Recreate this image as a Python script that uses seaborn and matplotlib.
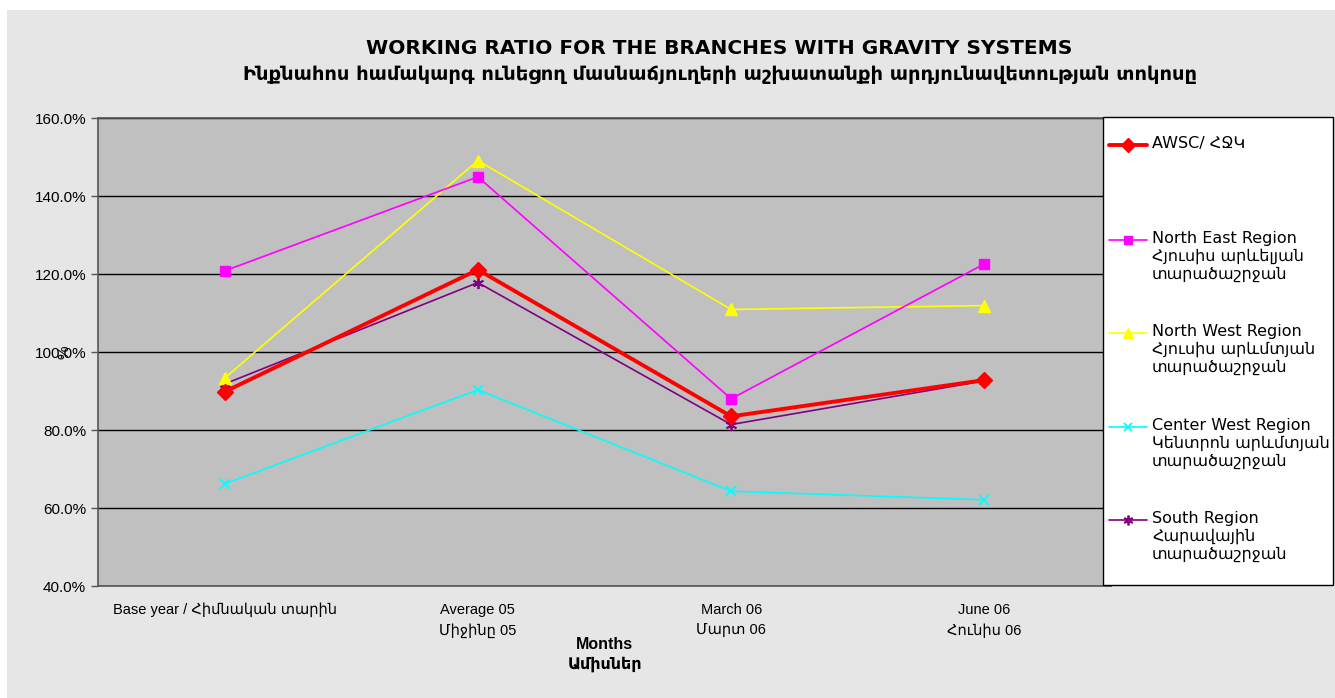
import pandas as pd
import numpy as np
import matplotlib
matplotlib.use('Agg')
import matplotlib.pyplot as plt
from matplotlib.patches import Rectangle
from matplotlib.lines import Line2D
import seaborn as sns

# Data (percent)
categories = ['Base year / Հիմնական տարին', 'Average 05\nՄիջինը 05',
              'March 06\nՄարտ 06', 'June 06\nՀունիս 06']
awsc = [89.8, 121.1, 83.5, 92.8]
north_east = [120.8, 144.9, 88.0, 122.6]
north_west = [93.3, 149.1, 110.9, 111.9]
center_west = [66.2, 90.3, 64.3, 62.1]
south = [91.8, 117.8, 81.4, 92.6]

series_labels = ['AWSC/ ՀՋԿ',
                 'North East Region\nՀյուսիս արևելյան\nտարածաշրջան',
                 'North West Region\nՀյուսիս արևմտյան\nտարածաշրջան',
                 'Center West Region\nԿենտրոն արևմտյան\nտարածաշրջան',
                 'South Region\nՀարավային\nտարածաշրջան']

sns.set_theme(style='white')
plt.rcParams['font.family'] = ['Liberation Sans', 'DejaVu Sans']
plt.rcParams['text.color'] = 'black'
plt.rcParams['axes.labelcolor'] = 'black'
plt.rcParams['xtick.color'] = 'black'
plt.rcParams['ytick.color'] = 'black'

fig = plt.figure(figsize=(13.35, 6.98), dpi=100)
fig.patch.set_facecolor('white')
# light page background
fig.patches.append(Rectangle((7 / 1335, 0), 1, (698 - 10) / 698, transform=fig.transFigure,
                             facecolor='#e6e6e6', edgecolor='none', zorder=-10))

ax = fig.add_axes([98 / 1335, (698 - 586) / 698, (1111 - 98) / 1335, (586 - 118) / 698])
ax.set_facecolor('#c0c0c0')

styles = [
    dict(color='#ff0000', marker='D', markersize=8, linewidth=2.8),
    dict(color='#ff00ff', marker='s', markersize=7, linewidth=1.2),
    dict(color='#ffff00', marker='^', markersize=8, linewidth=1.2),
    dict(color='#00ffff', marker='x', markersize=7, linewidth=1.2, markeredgewidth=1.3),
    dict(color='#800080', marker=(6, 2, 0), markersize=8, linewidth=1.2, markeredgewidth=1.3),
]
all_series = [awsc, north_east, north_west, center_west, south]
xpos = np.arange(len(categories))

# draw back to front so the red AWSC line sits on top
for i in [4, 3, 2, 1, 0]:
    st = styles[i]
    sns.lineplot(x=xpos, y=all_series[i], ax=ax, color=st['color'], marker=st['marker'],
                 markersize=st['markersize'], linewidth=st['linewidth'],
                 markeredgecolor=st['color'], markeredgewidth=st.get('markeredgewidth', 1),
                 zorder=3 + (5 - i))

ax.set_xlim(-0.5, len(categories) - 0.5)
ax.set_ylim(40, 160)
ax.set_yticks(np.arange(40, 161, 20))
ax.set_yticklabels([f'{v:.1f}%' for v in np.arange(40, 161, 20)], fontsize=11)
ax.yaxis.grid(True, color='black', linewidth=1)
ax.set_axisbelow(True)

# tick marks at category boundaries, labels at centres
ax.set_xticks(np.arange(-0.5, len(categories), 1))
ax.set_xticklabels([])
ax.set_xticks(xpos, minor=True)
ax.set_xticklabels(categories, minor=True, fontsize=10.5, linespacing=1.6)
ax.tick_params(axis='x', which='minor', length=0, pad=12)
ax.tick_params(axis='x', which='major', length=5, direction='inout', width=1, color='#555555')
ax.tick_params(axis='y', length=5, direction='out', width=1, color='#555555', left=True)

for sp in ax.spines.values():
    sp.set_color('#555555')
    sp.set_linewidth(1.2)

ax.set_ylabel('%', fontsize=11, rotation=90)
ax.yaxis.set_label_coords(-0.026, 0.5)
ax.set_xlabel('Months\nԱմիսներ', fontsize=11.5, fontweight='bold', linespacing=1.3)
ax.xaxis.set_label_coords(0.5, -0.11)

fig.text(0.539, 1 - 49 / 698, 'WORKING RATIO FOR THE BRANCHES WITH GRAVITY SYSTEMS',
         ha='center', va='center', fontsize=14.5, fontweight='bold', family='DejaVu Sans')
fig.text(0.539, 1 - 74 / 698,
         'Ինքնահոս համակարգ ունեցող մասնաճյուղերի աշխատանքի արդյունավետության տոկոսը',
         ha='center', va='center', fontsize=14, fontweight='bold', family='DejaVu Sans')

# legend box
fig.patches.append(Rectangle((1103 / 1335, (698 - 585) / 698), 230 / 1335, 468 / 698,
                             transform=fig.transFigure, facecolor='white',
                             edgecolor='black', linewidth=1, zorder=5))
entry_y = [145, 240, 333, 427, 520]
for i in range(len(series_labels)):
    st = styles[i]
    yy = 1 - entry_y[i] / 698
    fig.lines.append(Line2D([1109 / 1335, 1147 / 1335], [yy, yy], transform=fig.transFigure,
                            color=st['color'], linewidth=st['linewidth'], zorder=6))
    fig.lines.append(Line2D([1128 / 1335], [yy], transform=fig.transFigure, color=st['color'],
                            marker=st['marker'], markersize=st['markersize'] - 1,
                            markeredgecolor=st['color'],
                            markeredgewidth=st.get('markeredgewidth', 1), zorder=6))
    fig.text(1152 / 1335, yy + 9 / 698, series_labels[i], ha='left', va='top', fontsize=11.5,
             family='DejaVu Sans', linespacing=1.2, zorder=7)

fig.savefig('out.png', dpi=100)
